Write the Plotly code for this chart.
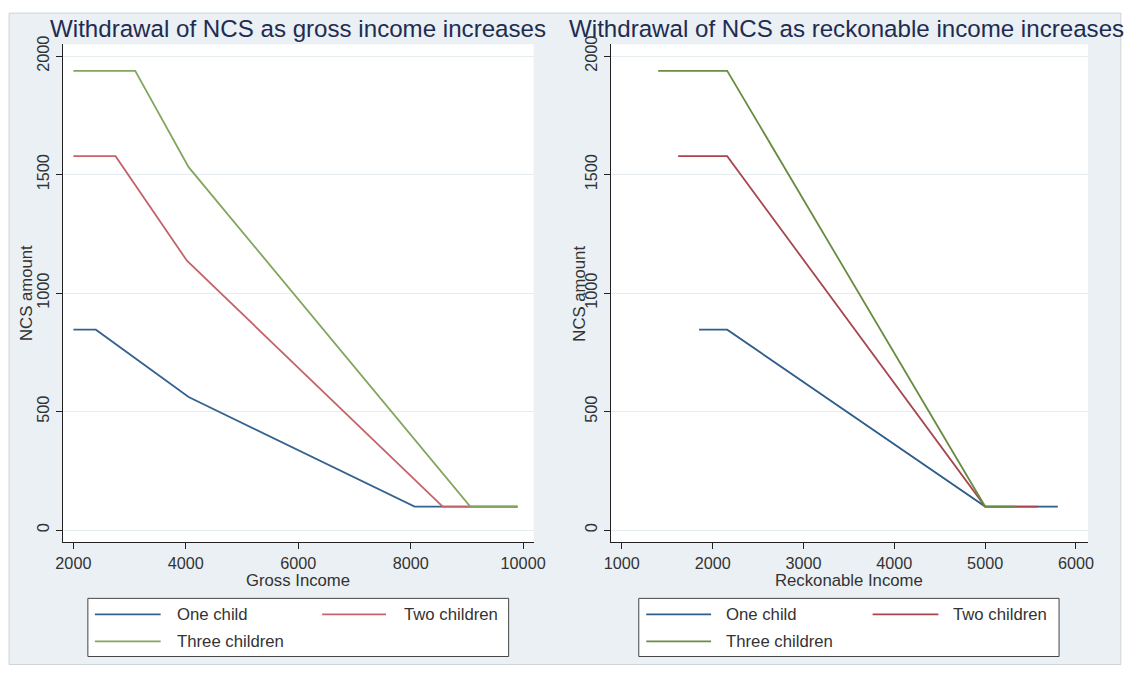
import plotly.graph_objects as go

W, H = 1128, 673

# ---------------- data ----------------
series_names = ["One child", "Two children", "Three children"]

# Panel 1: NCS vs gross income
gross_one_x = [2000, 2400, 4050, 8070, 9900]
gross_one_y = [846, 846, 562, 100, 100]
gross_two_x = [2000, 2750, 4020, 8570, 9900]
gross_two_y = [1578, 1578, 1137, 100, 100]
gross_three_x = [2000, 3100, 4050, 9060, 9900]
gross_three_y = [1938, 1938, 1532, 100, 100]

# Panel 2: NCS vs reckonable income
reck_one_x = [1850, 2160, 5000, 5800]
reck_one_y = [846, 846, 100, 100]
reck_two_x = [1620, 2160, 5000, 5580]
reck_two_y = [1578, 1578, 100, 100]
reck_three_x = [1400, 2160, 5000, 5340]
reck_three_y = [1938, 1938, 100, 100]

y_ticks = [0, 500, 1000, 1500, 2000]
gross_ticks = [2000, 4000, 6000, 8000, 10000]
reck_ticks = [1000, 2000, 3000, 4000, 5000, 6000]

title_left = "Withdrawal of NCS as gross income increases"
title_right = "Withdrawal of NCS as reckonable income increases"
xtitle_left = "Gross Income"
xtitle_right = "Reckonable Income"
ytitle = "NCS amount"

# ---------------- style ----------------
left_colors = ["#35628f", "#c4646a", "#83a55d"]
right_colors = ["#2f5e8b", "#a8464f", "#6a8c42"]
BG = "#eaf0f3"
GRID = "#e6edf0"
FONT = "Liberation Sans, Arial, sans-serif"
TXT = "#333333"
TITLE_C = "#1f2c52"

# the page photograph maps figure pixel p to about OFF + S*p; layout positions
# below are given in target-picture pixels and converted back
OFF, S = 7.9, 0.986


def px(x):
    return ((x - OFF) / S) / W


def py(y):
    return 1 - ((y - OFF) / S) / H


def fs(v):
    return v / S


fig = go.Figure()

left_data = [(gross_one_x, gross_one_y), (gross_two_x, gross_two_y), (gross_three_x, gross_three_y)]
right_data = [(reck_one_x, reck_one_y), (reck_two_x, reck_two_y), (reck_three_x, reck_three_y)]

for name, (xs, ys), c in zip(series_names, left_data, left_colors):
    fig.add_trace(go.Scatter(x=xs, y=ys, mode="lines", name=name,
                             line=dict(color=c, width=1.8), xaxis="x", yaxis="y",
                             showlegend=False))
for name, (xs, ys), c in zip(series_names, right_data, right_colors):
    fig.add_trace(go.Scatter(x=xs, y=ys, mode="lines", name=name,
                             line=dict(color=c, width=1.8), xaxis="x2", yaxis="y2",
                             showlegend=False))

ydom = [py(541), py(44)]
xdom_l = [px(63.6), px(536)]
xdom_r = [px(613.6), px(1092)]

axis_common = dict(showline=True, linecolor="#222222", linewidth=1,
                   ticks="outside", tickcolor="#222222", ticklen=6, tickwidth=1,
                   tickfont=dict(family=FONT, size=fs(16), color=TXT),
                   zeroline=False, fixedrange=True)

fig.update_layout(
    width=W, height=H,
    margin=dict(l=0, r=0, t=0, b=0),
    paper_bgcolor="white",
    plot_bgcolor="rgba(0,0,0,0)",
    xaxis=dict(domain=xdom_l, range=[1807, 10186], tickvals=gross_ticks,
               ticktext=[str(v) for v in gross_ticks],
               showgrid=False, anchor="y", **axis_common),
    yaxis=dict(domain=ydom, range=[-50.7, 2050.7], tickvals=y_ticks,
               ticktext=[str(v) for v in y_ticks], tickangle=-90,
               showgrid=True, gridcolor=GRID, gridwidth=1, anchor="x", **axis_common),
    xaxis2=dict(domain=xdom_r, range=[880, 6132], tickvals=reck_ticks,
                ticktext=[str(v) for v in reck_ticks],
                showgrid=False, anchor="y2", **axis_common),
    yaxis2=dict(domain=ydom, range=[-50.7, 2050.7], tickvals=y_ticks,
                ticktext=[str(v) for v in y_ticks], tickangle=-90,
                showgrid=True, gridcolor=GRID, gridwidth=1, anchor="x2", **axis_common),
    showlegend=False,
)

shapes = []
# graph region background
shapes.append(dict(type="rect", xref="paper", yref="paper",
                   x0=px(10), x1=px(1125), y0=py(663), y1=py(13),
                   fillcolor=BG, line=dict(color="#cfd4d6", width=1), layer="below"))
# white plot regions
for xd in (xdom_l, xdom_r):
    shapes.append(dict(type="rect", xref="paper", yref="paper",
                       x0=xd[0], x1=xd[1], y0=ydom[0], y1=ydom[1],
                       fillcolor="white", line=dict(width=0), layer="below"))

annotations = []
# titles
annotations.append(dict(text=title_left, x=px(299.5), y=py(28.5), xref="paper", yref="paper",
                        xanchor="center", yanchor="middle", showarrow=False,
                        font=dict(family=FONT, size=fs(23.8), color=TITLE_C)))
annotations.append(dict(text=title_right, x=px(850), y=py(28.5), xref="paper", yref="paper",
                        xanchor="center", yanchor="middle", showarrow=False,
                        font=dict(family=FONT, size=fs(23.8), color=TITLE_C)))
# axis titles
annotations.append(dict(text=xtitle_left, x=px(300), y=py(579), xref="paper", yref="paper",
                        xanchor="center", yanchor="middle", showarrow=False,
                        font=dict(family=FONT, size=fs(16.5), color=TXT)))
annotations.append(dict(text=xtitle_right, x=px(852), y=py(579), xref="paper", yref="paper",
                        xanchor="center", yanchor="middle", showarrow=False,
                        font=dict(family=FONT, size=fs(16.5), color=TXT)))
for xc in (26.7, 582):
    annotations.append(dict(text=ytitle, x=px(xc), y=py(292.5), xref="paper", yref="paper",
                            xanchor="center", yanchor="middle", showarrow=False, textangle=-90,
                            font=dict(family=FONT, size=fs(16.5), color=TXT)))

# legends (drawn boxes)
legend_specs = [
    dict(box=(89, 511), cols=[(96, 162, 176), (324, 388, 404)], colors=left_colors),
    dict(box=(641.5, 1063), cols=[(649, 714, 727), (876, 942, 955)], colors=right_colors),
]
row_y = [613, 640]
slots = [(0, 0), (0, 1), (1, 0)]  # (row, col) for each series
for spec in legend_specs:
    bx0, bx1 = spec["box"]
    shapes.append(dict(type="rect", xref="paper", yref="paper",
                       x0=px(bx0), x1=px(bx1), y0=py(655), y1=py(597),
                       fillcolor="white", line=dict(color="#444444", width=1)))
    for name, c, (r, col) in zip(series_names, spec["colors"], slots):
        lx0, lx1, tx = spec["cols"][col]
        yy = py(row_y[r])
        shapes.append(dict(type="line", xref="paper", yref="paper",
                           x0=px(lx0), x1=px(lx1), y0=yy, y1=yy,
                           line=dict(color=c, width=1.8)))
        annotations.append(dict(text=name, x=px(tx), y=yy, xref="paper", yref="paper",
                                xanchor="left", yanchor="middle", showarrow=False,
                                font=dict(family=FONT, size=fs(16.5), color=TXT)))

fig.update_layout(shapes=shapes, annotations=annotations)

fig.write_html(
    "out.html", config={"displayModeBar": False},
    post_script=(
        "document.documentElement.style.margin='0';"
        "document.documentElement.style.padding='0';"
        "document.body.style.margin='0';"
        "document.body.style.padding='0';"
        "document.body.style.overflow='hidden';"
    ),
)
